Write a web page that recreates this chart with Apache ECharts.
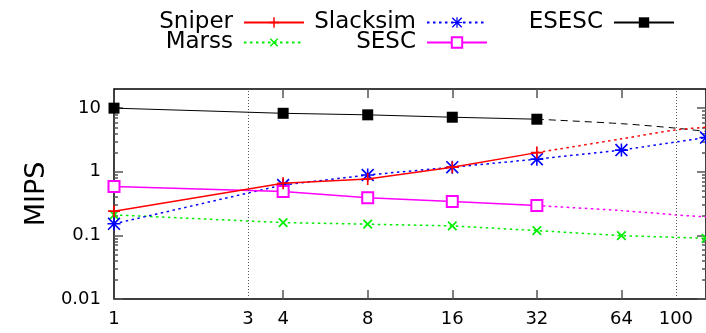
<!DOCTYPE html>
<html><head><meta charset="utf-8">
<script src="https://cdn.jsdelivr.net/npm/echarts@6/dist/echarts.min.js"></script>
<style>html,body{margin:0;padding:0;background:#fff}#c{width:706px;height:333px}</style>
</head><body><div id="c"></div>
<script>
// ---- data ----
const threads = [1, 4, 8, 16, 32, 64, 128];
const measuredThreads = [1, 4, 8, 16, 32];
const extrapThreads = [32, 64, 100, 128];
const sniper = [0.24, 0.66, 0.77, 1.18, 2.0];
const sniperExtrap = [2.0, 3.29, 4.56, 5.0];
const marss = [0.21, 0.159, 0.15, 0.141, 0.119, 0.099, 0.09];
const slacksim = [0.152, 0.62, 0.89, 1.18, 1.58, 2.19, 3.45];
const sesc = [0.586, 0.49, 0.39, 0.34, 0.294];
const sescExtrap = [0.294, 0.245, 0.21, 0.195];
const esesc = [10, 8.3, 7.85, 7.2, 6.7];
const esescExtrap = [6.7, 5.7, 4.85, 4.3];
const xLabelValues = [1, 3, 4, 8, 16, 32, 64, 100];
const xTickValues = [4, 8, 16, 32, 64];
const xGridValues = [3, 100];
const yLabelValues = [0.01, 0.1, 1, 10];
const yMinorValues = [0.02,0.03,0.04,0.05,0.06,0.07,0.08,0.09,0.2,0.3,0.4,0.5,0.6,0.7,0.8,0.9,2,3,4,5,6,7,8,9];

const pair = (xs, ys) => ys.map((v, i) => [xs[i], v]);
const FONT = 'DejaVu Sans';
const TICK = '#555';
const plusPath = 'path://M4.3,0h1.4v10h-1.4z M0,4.3h10v1.4h-10z';
const starPath = 'path://M4.4,0h1.2v10h-1.2z M0,4.4h10v1.2h-10z M0,0.9L0.9,0L10,9.1L9.1,10Z M9.1,0L10,0.9L0.9,10L0,9.1Z';

const chart = echarts.init(document.getElementById('c'), null, {renderer: 'canvas'});

function xAx(pos, labels) {
  return {
    type: 'log', logBase: 2, min: 1, max: 128, position: pos,
    axisLine: {show: false},
    splitLine: {show: false},
    axisTick: {show: true, inside: true, length: 9, customValues: xTickValues, lineStyle: {color: TICK, width: 1.5}},
    axisLabel: {show: labels, customValues: xLabelValues, margin: 11, color: '#000', fontFamily: FONT, fontSize: 18,
      formatter: v => String(v)}
  };
}
function yAx(pos, major, labels) {
  return {
    type: 'log', logBase: 10, min: 0.01, max: 20, position: pos,
    axisLine: {show: false},
    splitLine: {show: false},
    axisTick: {show: true, inside: true, length: major ? 9 : 4, customValues: major ? yLabelValues : yMinorValues,
      lineStyle: {color: TICK, width: 1.5}},
    axisLabel: {show: labels, customValues: yLabelValues, margin: 13, color: '#000', fontFamily: FONT, fontSize: 18,
      formatter: v => String(v)},
    name: labels ? 'MIPS' : '', nameLocation: 'middle', nameGap: 58, nameRotate: 90,
    nameTextStyle: {fontFamily: FONT, fontSize: 27, color: '#000'}
  };
}

const option = {
  animation: false,
  backgroundColor: '#fff',
  grid: {left: 114, right: 0, top: 89, bottom: 34, show: true, borderColor: '#000', borderWidth: 1.5, backgroundColor: 'transparent'},
  legend: [
    ['Sniper', 401, 10.5], ['Marss', 401, 30.5], ['Slacksim', 218, 10.5], ['SESC', 218, 30.5], ['ESESC', 31, 10.5]
  ].map(([name, right, top]) => ({
    data: [name], right: right, top: top, padding: 0, align: 'right', orient: 'horizontal',
    itemWidth: 60, itemHeight: 13, selectedMode: false,
    textStyle: {fontFamily: FONT, fontSize: 23, color: '#000', lineHeight: 24, padding: [0, 6, 0, 0]}
  })),
  xAxis: [xAx('bottom', true), xAx('top', false)],
  yAxis: [yAx('left', true, true), yAx('left', false, false), yAx('right', true, false), yAx('right', false, false)],
  series: [
    {name: 'ESESC-fit', type: 'line', data: pair(extrapThreads, esescExtrap), smooth: 0.3, showSymbol: false,
      lineStyle: {color: '#000', width: 1, type: [7, 5]}, itemStyle: {color: '#000'}, z: 2},
    {name: 'Sniper-fit', type: 'line', data: pair(extrapThreads, sniperExtrap), smooth: 0.3, showSymbol: false,
      lineStyle: {color: '#ff0000', width: 1.5, type: [2.5, 3.5]}, itemStyle: {color: '#ff0000'}, z: 2},
    {name: 'SESC-fit', type: 'line', data: pair(extrapThreads, sescExtrap), smooth: 0.3, showSymbol: false,
      lineStyle: {color: '#ff00ff', width: 1.5, type: [2.5, 3.5]}, itemStyle: {color: '#ff00ff'}, z: 2},
    {name: 'Marss', type: 'line', data: pair(threads, marss), symbol: plusPath, symbolRotate: 45, symbolSize: 12,
      lineStyle: {color: '#00ee00', width: 1.5, type: [2.5, 3.5]}, itemStyle: {color: '#00ee00'}, z: 3,
      markLine: {silent: true, symbol: 'none', label: {show: false},
        lineStyle: {color: '#555', width: 1, type: [1, 2]}, data: xGridValues.map(v => ({xAxis: v}))}},
    {name: 'Slacksim', type: 'line', data: pair(threads, slacksim), symbol: starPath, symbolSize: 13,
      lineStyle: {color: '#0000ff', width: 1.5, type: [2.5, 3.5]}, itemStyle: {color: '#0000ff'}, z: 4},
    {name: 'SESC', type: 'line', data: pair(measuredThreads, sesc), symbol: 'emptyRect', symbolSize: 11,
      lineStyle: {color: '#ff00ff', width: 1.5}, itemStyle: {color: '#ff00ff', borderWidth: 1.5}, z: 4},
    {name: 'Sniper', type: 'line', data: pair(measuredThreads, sniper), symbol: plusPath, symbolSize: 12,
      lineStyle: {color: '#ff0000', width: 1.5}, itemStyle: {color: '#ff0000'}, z: 5},
    {name: 'ESESC', type: 'line', data: pair(measuredThreads, esesc), symbol: 'rect', symbolSize: 11,
      lineStyle: {color: '#000', width: 1}, itemStyle: {color: '#000'}, z: 5}
  ]
};
chart.setOption(option);
</script></body></html>
